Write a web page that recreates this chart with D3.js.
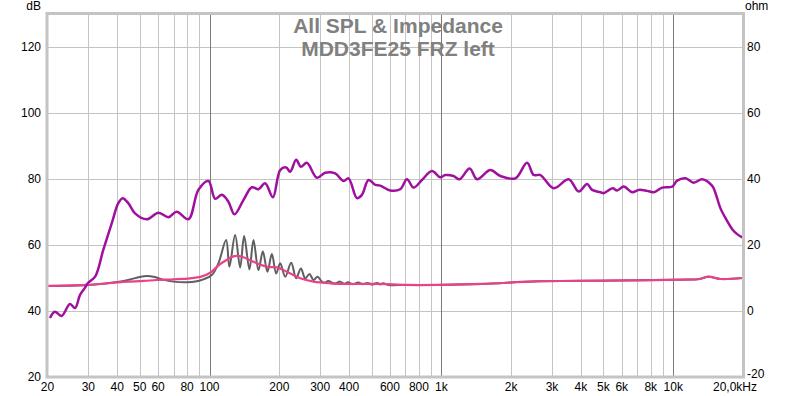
<!DOCTYPE html>
<html>
<head>
<meta charset="utf-8">
<script src="https://cdn.jsdelivr.net/npm/d3@7"></script>
<style>
  html, body { margin: 0; padding: 0; background: #fff; }
  svg { display: block; font-family: "Liberation Sans", Arial, sans-serif; }
</style>
</head>
<body>
<svg id="chart" width="800" height="396"></svg>
<script>
// ---- Data ----
const titleLines = ["All SPL & Impedance", "MDD3FE25 FRZ left"];

// SPL curve (purple), dB on the left axis
const splFreq = [20.5, 21.5, 23.0, 25.0, 26.3, 27.6, 29.0, 29.9, 32.1, 34.8, 37.9, 40.4, 42.2, 44.7, 47.7, 53.6, 60.2, 66.5, 72.2, 81.1, 89.5, 98.9, 105.7, 113, 120.6, 128, 140, 152.2, 162.5, 173.7, 187.6, 201.7, 214, 222.7, 236.4, 247.7, 262.9, 290.4, 315.3, 348.4, 378.3, 397.7, 432.3, 454.2, 485, 518.6, 545, 601.8, 664.6, 710.4, 758.6, 824.6, 910.7, 989, 1039, 1129, 1198, 1324, 1425, 1626, 1796, 2085, 2342, 2501, 2673, 3050, 3541, 3912, 4252, 4468, 4853, 5015, 5484, 5728, 6118, 6650, 7098, 7718, 8241, 8959, 9898, 10400, 11296, 12266, 13334, 14730, 15220, 15994, 16981, 17966, 18878, 19844];
const splDb   = [37.9, 39.8, 38.5, 42.1, 40.9, 44.8, 47.0, 48.5, 50.4, 58.5, 66.7, 72.7, 74.2, 72.6, 69.6, 67.8, 69.8, 68.4, 70.1, 67.8, 76.7, 79.4, 74.0, 75.2, 73.1, 69.3, 73.6, 77.5, 76.9, 78.7, 74.5, 82.7, 83.5, 82.2, 85.8, 83.7, 84.9, 80.4, 81.9, 81.7, 79.4, 80.2, 74.2, 75.2, 79.7, 78.2, 78.0, 76.5, 76.9, 79.9, 77.4, 79.7, 82.4, 80.5, 81.2, 80.9, 79.9, 83.2, 79.9, 82.7, 80.9, 80.2, 84.9, 81.2, 81.2, 77.2, 79.9, 76.2, 78.5, 76.7, 76.0, 75.7, 77.2, 76.5, 77.7, 76.0, 76.7, 76.4, 76.0, 77.4, 77.7, 79.5, 80.2, 78.9, 79.9, 77.9, 75.7, 71.1, 67.6, 64.8, 63.3, 62.3];

// Impedance, raw measurement (gray), ohm on the right axis
const impRawFreq = [20, 30, 40, 45, 50, 53.6, 58, 63, 69.8, 79.8, 88, 94.1, 102.3, 109.3, 117.9, 121.8, 128.9, 135.5, 141, 148.6, 154.7, 162.5, 169.8, 177.7, 185.7, 193.8, 201.7, 212, 225, 236.4, 247.7, 258.6, 269.8, 280.8, 292.2, 305.3, 315, 325, 345, 366, 381, 396, 415, 438, 458, 479, 503, 529, 545, 561, 590, 700, 957, 1500, 2586, 4853, 7000, 10746, 13000, 14196, 15994, 19844];
const impRawOhm  = [7.6, 7.9, 8.8, 9.5, 10.3, 10.6, 10.3, 9.5, 8.9, 8.7, 9.0, 9.6, 10.9, 14.5, 21.5, 13.4, 23.0, 13.2, 22.7, 12.6, 21.5, 12.4, 18.0, 11.9, 17.3, 11.4, 14.5, 10.4, 14.6, 9.9, 12.9, 9.9, 11.2, 9.4, 10.4, 8.9, 8.6, 9.1, 8.3, 8.9, 8.2, 8.7, 8.1, 8.6, 8.1, 8.5, 8.0, 8.5, 8.0, 8.4, 7.9, 7.9, 7.9, 8.2, 9.0, 9.2, 9.3, 9.5, 9.7, 10.4, 9.7, 10.0];

// Impedance, smoothed (pink), ohm on the right axis
const impSmoothFreq = [20, 30, 42.5, 52, 59.2, 70, 82.4, 92, 100.6, 103.9, 110, 118.7, 125, 131.1, 140, 154.7, 176.7, 195.2, 215.5, 246, 280.8, 331.4, 400, 545, 700, 957, 1500, 2586, 4853, 7000, 10746, 13000, 14196, 15994, 19844];
const impSmoothOhm  = [7.6, 7.9, 8.8, 9.1, 9.4, 9.6, 9.9, 10.4, 11.6, 12.4, 14.0, 15.5, 16.4, 16.7, 16.3, 14.9, 13.4, 13.2, 11.9, 9.9, 8.9, 8.4, 8.2, 8.2, 7.9, 7.9, 8.2, 9.0, 9.2, 9.3, 9.5, 9.7, 10.4, 9.7, 10.0];

// Axis ticks
const xTickValues = [20, 30, 40, 50, 60, 80, 100, 200, 300, 400, 600, 800, 1000, 2000, 3000, 4000, 5000, 6000, 8000, 10000, 20000];
const xTickLabels = ["20", "30", "40", "50", "60", "80", "100", "200", "300", "400", "600", "800", "1k", "2k", "3k", "4k", "5k", "6k", "8k", "10k", "20,0kHz"];
const xGridValues = [30, 40, 50, 60, 70, 80, 90, 200, 300, 400, 500, 600, 700, 800, 900, 2000, 3000, 4000, 5000, 6000, 7000, 8000, 9000];
const xDecadeValues = [100, 1000, 10000];
const dbTicks  = [20, 40, 60, 80, 100, 120];
const ohmTicks = [-20, 0, 20, 40, 60, 80];

// ---- Layout ----
const svg = d3.select("#chart");
const L = 47.5, R = 743, T = 14, B = 377;

const x = d3.scaleLog().domain([20, 20000]).range([L, R]);
const yDb = d3.scaleLinear().domain([20, 130]).range([B, T]);
const yOhm = d3.scaleLinear().domain([-20, 90]).range([B, T]);

// Grid
const grid = svg.append("g");
grid.selectAll("line.vg").data(xGridValues).enter().append("line")
  .attr("x1", d => Math.round(x(d)) + 0.5).attr("x2", d => Math.round(x(d)) + 0.5)
  .attr("y1", T).attr("y2", B)
  .attr("stroke", "#c4c4c4").attr("stroke-width", 1);
grid.selectAll("line.hg").data(dbTicks.filter(d => d > 20)).enter().append("line")
  .attr("x1", L).attr("x2", R)
  .attr("y1", d => Math.round(yDb(d)) + 0.5).attr("y2", d => Math.round(yDb(d)) + 0.5)
  .attr("stroke", "#c4c4c4").attr("stroke-width", 1);
grid.selectAll("line.dg").data(xDecadeValues).enter().append("line")
  .attr("x1", d => Math.round(x(d)) + 0.5).attr("x2", d => Math.round(x(d)) + 0.5)
  .attr("y1", T).attr("y2", B)
  .attr("stroke", "#7a7a7a").attr("stroke-width", 1);

// Curves
const lineSpl = d3.line()
  .x((d, i) => x(splFreq[i])).y(d => yDb(d))
  .curve(d3.curveCatmullRom.alpha(0.5));
const lineRaw = d3.line()
  .x((d, i) => x(impRawFreq[i])).y(d => yOhm(d))
  .curve(d3.curveCatmullRom.alpha(0.5));
const lineSmooth = d3.line()
  .x((d, i) => x(impSmoothFreq[i])).y(d => yOhm(d))
  .curve(d3.curveCatmullRom.alpha(0.5));

const plot = svg.append("g");
plot.append("path").attr("d", lineRaw(impRawOhm))
  .attr("fill", "none").attr("stroke", "#5f5f5f").attr("stroke-width", 2).attr("stroke-linejoin", "round");
plot.append("path").attr("d", lineSmooth(impSmoothOhm))
  .attr("fill", "none").attr("stroke", "#e8428c").attr("stroke-width", 2.2).attr("stroke-linejoin", "round");
plot.append("path").attr("d", lineSpl(splDb))
  .attr("fill", "none").attr("stroke", "#a0109e").attr("stroke-width", 2.5).attr("stroke-linejoin", "round");

// Frame
svg.append("rect")
  .attr("x", L - 0.5).attr("y", T - 0.5)
  .attr("width", R - L + 1).attr("height", B - T + 0.5)
  .attr("fill", "none").attr("stroke", "#c4c4c4").attr("stroke-width", 3);

// Title
svg.append("g").selectAll("text").data(titleLines).enter().append("text")
  .attr("x", 398).attr("y", (d, i) => 33 + i * 22.5)
  .attr("text-anchor", "middle")
  .attr("font-size", 21).attr("font-weight", "bold")
  .attr("fill", "#808080")
  .text(d => d);

// Left axis labels
svg.append("g").selectAll("text").data(dbTicks).enter().append("text")
  .attr("x", 41).attr("y", d => yDb(d)).attr("dy", "0.36em")
  .attr("text-anchor", "end").attr("font-size", 12).attr("fill", "#000")
  .text(d => d);
svg.append("text").attr("x", 41).attr("y", 10).attr("text-anchor", "end")
  .attr("font-size", 12).attr("fill", "#000").text("dB");

// Right axis labels
svg.append("g").selectAll("text").data(ohmTicks).enter().append("text")
  .attr("x", 747).attr("y", d => yOhm(d) - (d === -20 ? 3 : 0)).attr("dy", "0.36em")
  .attr("text-anchor", "start").attr("font-size", 12).attr("fill", "#000")
  .text(d => d);
svg.append("text").attr("x", 745).attr("y", 10).attr("text-anchor", "start")
  .attr("font-size", 12).attr("fill", "#000").text("ohm");

// Bottom axis labels
svg.append("g").selectAll("text").data(xTickValues).enter().append("text")
  .attr("x", (d, i) => d === 20000 ? x(d) - 8 : x(d))
  .attr("y", 391)
  .attr("text-anchor", "middle").attr("font-size", 12).attr("fill", "#000")
  .text((d, i) => xTickLabels[i]);
</script>
</body>
</html>
